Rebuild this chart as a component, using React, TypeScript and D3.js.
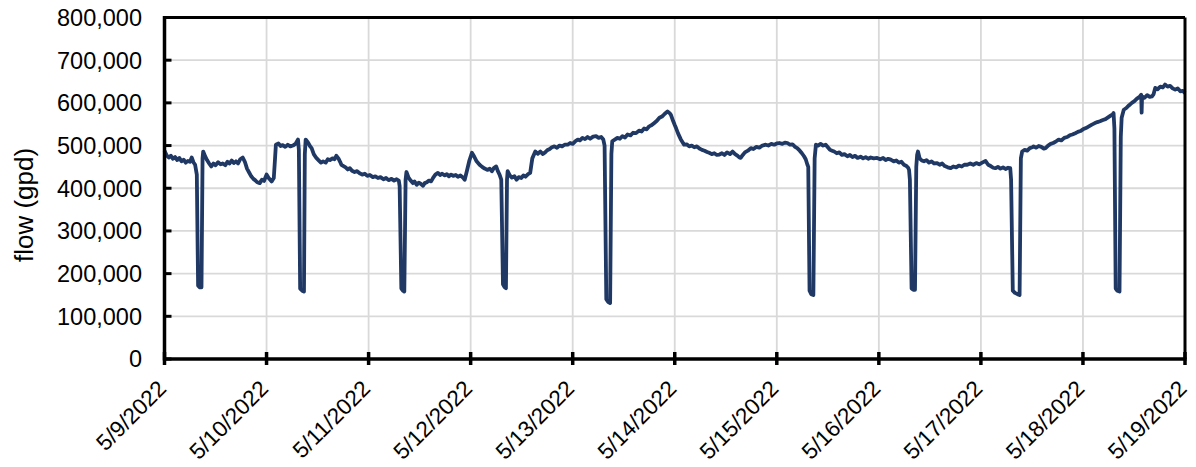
import React from "react";
import * as d3 from "d3";

// [hours after 5/9/2022 00:00, flow in thousands of gpd], one array per day
const day1: [number, number][] = [
  [0, 488], [0.5, 477], [1, 472], [1.5, 476], [2, 469], [2.5, 473], [3, 466], [3.5, 471], [4, 463], [4.5, 467],
  [5, 460], [5.5, 464], [6, 462], [6.4, 472], [6.8, 461], [7.2, 455], [7.6, 432], [7.9, 172], [8.3, 168], [8.7, 168],
  [8.95, 470], [9.1, 486], [9.6, 474], [10, 466], [10.5, 458], [11, 451], [11.5, 458], [12, 454], [12.6, 461],
  [13.2, 456], [13.7, 458], [14.3, 454], [14.8, 462], [15.3, 458], [15.8, 465], [16.3, 459], [16.8, 463], [17.3, 458],
  [17.8, 468], [18.4, 472], [18.9, 462], [19.4, 446], [19.9, 437], [20.4, 428], [20.9, 422], [21.3, 419], [21.8, 414],
  [22.4, 412], [22.9, 420], [23.4, 417],
];
const day2: [number, number][] = [
  [24.0, 432], [24.5, 424], [25.2, 416], [25.7, 424], [26.0, 470], [26.2, 502], [26.8, 505], [27.3, 499], [27.8, 501],
  [28.4, 497], [29, 502], [29.6, 498], [30.2, 500], [30.8, 504], [31.4, 514], [31.6, 490], [31.9, 165], [32.4, 160],
  [32.8, 158], [33.0, 480], [33.2, 514], [33.7, 508], [34.2, 499], [34.6, 494], [35.1, 480], [35.7, 471], [36.2, 466],
  [36.8, 460], [37.3, 463], [37.9, 460], [38.4, 468], [38.9, 466], [39.5, 470], [40.0, 468], [40.4, 476], [40.9, 470],
  [41.3, 462], [41.6, 455], [42.1, 452], [42.6, 449], [43.1, 444], [43.6, 447], [44.1, 441], [44.7, 438], [45.3, 440],
  [45.9, 435], [46.5, 432], [47.1, 434], [47.7, 429],
];
const day3: [number, number][] = [
  [48.3, 431], [49.0, 426], [49.6, 428], [50.2, 424], [50.8, 426], [51.5, 421], [52.1, 424], [52.7, 419], [53.4, 422],
  [54, 418], [54.6, 421], [55.1, 418], [55.3, 405], [55.7, 165], [56.1, 160], [56.4, 158], [56.7, 420], [56.9, 438],
  [57.4, 425], [57.9, 418], [58.4, 412], [58.8, 416], [59.3, 408], [59.8, 413], [60.3, 410], [60.8, 406], [61.2, 412],
  [61.7, 414], [62.2, 418], [62.7, 416], [63.2, 425], [63.7, 432], [64.3, 436], [64.8, 431], [65.3, 434], [65.9, 430],
  [66.4, 433], [66.9, 428], [67.4, 432], [67.9, 429], [68.5, 431], [69, 427], [69.6, 430], [70.1, 426], [70.6, 420],
  [71.1, 440], [71.7, 465],
];
const day4: [number, number][] = [
  [72.3, 483], [72.8, 475], [73.4, 463], [74.1, 455], [74.7, 450], [75.3, 446], [76.0, 443], [76.5, 446], [77, 440],
  [77.5, 448], [78.0, 451], [78.4, 440], [78.8, 432], [79.2, 420], [79.6, 175], [80.0, 168], [80.3, 166], [80.55, 420],
  [80.7, 440], [81.2, 430], [81.7, 425], [82.3, 428], [82.8, 420], [83.3, 426], [83.9, 424], [84.4, 430], [84.9, 427],
  [85.5, 433], [86.0, 436], [86.5, 470], [87.2, 486], [87.8, 481], [88.4, 486], [89.0, 480], [89.4, 483], [90, 489],
  [90.6, 492], [91.1, 496], [91.7, 498], [92.3, 495], [92.9, 500], [93.5, 498], [94.1, 502], [94.8, 502], [95.4, 506],
];
const day5: [number, number][] = [
  [96, 504], [96.6, 510], [97.2, 514], [97.7, 512], [98.3, 518], [98.9, 515], [99.5, 520], [100.1, 516], [100.8, 521],
  [101.5, 522], [102.1, 518], [102.7, 520], [103.2, 514], [103.5, 500], [103.9, 140], [104.3, 134], [104.8, 131],
  [105.1, 480], [105.3, 510], [105.9, 514], [106.5, 518], [107.1, 516], [107.7, 522], [108.3, 519], [108.9, 526],
  [109.6, 524], [110.2, 530], [110.9, 529], [111.6, 535], [112.2, 533], [112.8, 540], [113.4, 538], [114.0, 545],
  [114.6, 548], [115.2, 553], [115.8, 558], [116.4, 565], [117, 568], [117.6, 574], [118.3, 580], [118.8, 576],
  [119.1, 572], [119.6, 558],
];
const day6: [number, number][] = [
  [120.0, 548], [120.3, 541], [120.8, 528], [121.4, 515], [122.2, 502], [122.8, 503], [123.4, 498], [124.0, 500],
  [124.6, 496], [125.2, 498], [125.8, 493], [126.4, 490], [127, 488], [127.6, 485], [128.1, 483], [128.7, 480],
  [129.3, 482], [129.9, 478], [130.5, 479], [131.1, 482], [131.7, 478], [132.3, 484], [133, 480], [133.6, 486],
  [134.2, 480], [134.8, 476], [135.2, 472], [135.5, 471], [136.0, 478], [136.5, 484], [137.2, 488], [137.9, 494],
  [138.5, 492], [139.2, 497], [139.9, 495], [140.6, 500], [141.4, 502], [142, 500], [142.7, 504], [143.4, 502],
];
const day7: [number, number][] = [
  [144, 505], [144.6, 506], [145.3, 504], [145.9, 507], [146.5, 506], [147.1, 502], [147.7, 503], [148.3, 497],
  [148.8, 494], [149.4, 488], [149.9, 482], [150.4, 475], [150.8, 468], [151.2, 455], [151.4, 450], [151.7, 160],
  [152.1, 152], [152.6, 150], [152.9, 470], [153.2, 502], [153.7, 500], [154.3, 504], [154.9, 500], [155.5, 502],
  [156, 496], [156.5, 490], [157, 488], [157.5, 486], [158.1, 482], [158.7, 484], [159.3, 478], [159.9, 480],
  [160.6, 475], [161.2, 478], [161.8, 473], [162.4, 476], [163, 471], [163.7, 474], [164.3, 470], [164.9, 473],
  [165.5, 469], [166.1, 472], [166.8, 470], [167.6, 471],
];
const day8: [number, number][] = [
  [168.3, 468], [169, 471], [169.6, 466], [170.2, 469], [170.8, 467], [171.5, 463], [172.1, 465], [172.7, 460],
  [173.3, 462], [173.9, 455], [174.5, 452], [174.9, 448], [175.1, 443], [175.3, 420], [175.7, 165], [176.1, 162],
  [176.5, 162], [176.8, 450], [177.0, 478], [177.2, 486], [177.6, 470], [178.1, 465], [178.6, 463], [179.2, 466],
  [179.8, 460], [180.4, 463], [181, 458], [181.7, 459], [182.3, 455], [182.9, 458], [183.5, 452], [184.2, 449],
  [184.9, 447], [185.5, 451], [186.2, 449], [186.8, 453], [187.5, 451], [188.1, 455], [188.8, 455], [189.5, 458],
  [190.2, 455], [190.9, 459], [191.6, 456],
];
const day9: [number, number][] = [
  [192.3, 460], [193.1, 464], [193.7, 455], [194.3, 452], [194.9, 448], [195.4, 447], [196, 450], [196.6, 446],
  [197.2, 449], [197.8, 445], [198.4, 448], [198.9, 447], [199.1, 420], [199.5, 160], [200, 155], [200.6, 152],
  [201.1, 150], [201.4, 470], [201.7, 486], [202.3, 490], [202.9, 488], [203.5, 494], [204.1, 496], [204.4, 498],
  [205, 495], [205.6, 499], [206.2, 497], [206.8, 493], [207.2, 494], [207.8, 500], [208.4, 504], [209, 506],
  [209.7, 510], [210.3, 514], [210.9, 512], [211.6, 518], [212.3, 520], [212.9, 524], [213.5, 526], [214.2, 529],
  [214.8, 532], [215.4, 534],
];
const day10: [number, number][] = [
  [216, 538], [216.7, 541], [217.4, 545], [218.1, 549], [218.7, 552], [219.4, 555], [220.0, 557], [220.7, 560],
  [221.3, 562], [221.9, 566], [222.5, 570], [223.0, 573], [223.2, 576], [223.4, 540], [223.7, 165], [224.1, 160],
  [224.6, 158], [224.9, 520], [225.1, 565], [225.6, 584], [226.2, 588], [226.8, 594], [227.5, 600], [228.1, 604],
  [228.7, 610], [229.3, 614], [229.7, 619], [229.8, 577], [229.9, 615], [230.5, 612], [231.1, 618], [231.7, 614],
  [232.2, 615], [232.6, 620], [233.0, 635], [233.6, 632], [234.2, 638], [234.8, 636], [235.3, 643], [235.9, 638],
  [236.5, 640], [237.1, 634], [237.7, 631], [238.3, 634], [238.9, 627], [239.5, 628], [240, 623],
];

const yTicks: number[] = [0, 100000, 200000, 300000, 400000, 500000, 600000, 700000, 800000];
const dayLabels: string[] = [
  "5/9/2022", "5/10/2022", "5/11/2022", "5/12/2022", "5/13/2022", "5/14/2022",
  "5/15/2022", "5/16/2022", "5/17/2022", "5/18/2022", "5/19/2022",
];

const W = 1196;
const H = 467;
const M = { left: 164.5, right: 1185, top: 17.5, bottom: 359 };
const FONT = "'Liberation Sans', Arial, sans-serif";

export default function App() {
  const start = new Date(2022, 4, 9);
  const end = new Date(2022, 4, 19);
  const x = d3.scaleTime().domain([start, end]).range([M.left, M.right]);
  const y = d3.scaleLinear().domain([0, 800000]).range([M.bottom, M.top]);
  const dayTicks = d3.timeDay.range(start, d3.timeDay.offset(end, 1));
  const series = [day1, day2, day3, day4, day5, day6, day7, day8, day9, day10].flat();
  const pts = series.map(([h, k]) => ({ t: new Date(start.getTime() + h * 3600000), v: k * 1000 }));
  const line = d3
    .line<{ t: Date; v: number }>()
    .x((d) => x(d.t))
    .y((d) => y(d.v));
  const fmt = d3.format(",");

  return (
    <svg width={W} height={H} style={{ position: "absolute", left: 0, top: 0 }} fontFamily={FONT}>
      <rect x={0} y={0} width={W} height={H} fill="#fff" />
      {yTicks.slice(1, -1).map((t) => (
        <line key={"gy" + t} x1={M.left} x2={M.right} y1={y(t)} y2={y(t)} stroke="#d9d9d9" strokeWidth={1.8} />
      ))}
      {dayTicks.slice(1, -1).map((d, i) => (
        <line key={"gx" + i} x1={x(d)} x2={x(d)} y1={M.top} y2={M.bottom} stroke="#d9d9d9" strokeWidth={1.8} />
      ))}
      <path d={line(pts) || ""} fill="none" stroke="#1f3864" strokeWidth={3.8} strokeLinejoin="round" />
      <line x1={M.left} x2={M.right} y1={M.top} y2={M.top} stroke="#000" strokeWidth={3} />
      <line x1={M.right} x2={M.right} y1={M.top} y2={M.bottom} stroke="#000" strokeWidth={3} />
      <line x1={M.left} x2={M.left} y1={M.top - 1.5} y2={M.bottom + 1.5} stroke="#000" strokeWidth={3.5} />
      <line x1={M.left - 1.5} x2={M.right + 1.5} y1={M.bottom} y2={M.bottom} stroke="#000" strokeWidth={3.5} />
      {yTicks.map((t) => (
        <g key={"yt" + t}>
          <line x1={M.left} x2={M.left + 7} y1={y(t)} y2={y(t)} stroke="#000" strokeWidth={3} />
          <text x={142} y={y(t)} dy="0.36em" textAnchor="end" fontSize={23.5} fill="#000">
            {fmt(t)}
          </text>
        </g>
      ))}
      {dayTicks.map((d, i) => (
        <g key={"xt" + i}>
          <line x1={x(d)} x2={x(d)} y1={M.bottom - 7} y2={M.bottom + 6} stroke="#000" strokeWidth={3.5} />
          <text
            transform={`translate(${x(d) + 3},${390}) rotate(-45)`}
            textAnchor="end"
            fontSize={22.5}
            fill="#000"
          >
            {dayLabels[i]}
          </text>
        </g>
      ))}
      <text transform={`translate(${33},${205}) rotate(-90)`} textAnchor="middle" fontSize={26} fill="#000">
        flow (gpd)
      </text>
    </svg>
  );
}
